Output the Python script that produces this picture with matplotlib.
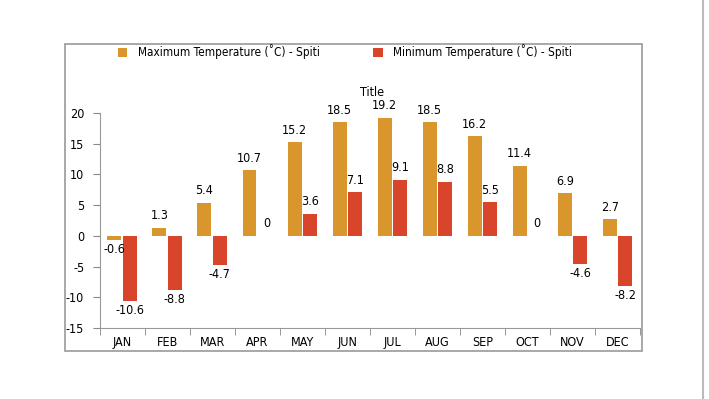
import matplotlib.pyplot as plt
import numpy as np
from matplotlib.patches import Rectangle

months = ["JAN", "FEB", "MAR", "APR", "MAY", "JUN", "JUL", "AUG", "SEP", "OCT", "NOV", "DEC"]
max_temp = [-0.6, 1.3, 5.4, 10.7, 15.2, 18.5, 19.2, 18.5, 16.2, 11.4, 6.9, 2.7]
min_temp = [-10.6, -8.8, -4.7, 0, 3.6, 7.1, 9.1, 8.8, 5.5, 0, -4.6, -8.2]
yticks = [-15, -10, -5, 0, 5, 10, 15, 20]

c_max = "#D8962C"
c_min = "#D9452A"
plt.rcParams['font.family'] = ['DejaVu Sans']
plt.rcParams['font.stretch'] = 'condensed'
fs = 8.5

fig = plt.figure(figsize=(7.09, 3.99), dpi=100)
# outer frame
fig.patches.append(Rectangle((65 / 709, 1 - 351 / 399), (642 - 65) / 709, (351 - 44) / 399,
                             transform=fig.transFigure, fill=False, edgecolor="#999999", lw=1.2))
fig.add_artist(plt.Line2D([703 / 709, 703 / 709], [0, 1], color="#bbbbbb", lw=1.5))

ax = fig.add_axes([99.5 / 709, 1 - 328 / 399, (640 - 99.5) / 709, (328 - 113) / 399])
x = np.arange(len(months))
w = 0.31
b1 = ax.bar(x - 0.17, max_temp, w, color=c_max, label="Maximum Temperature (˚C) - Spiti")
b2 = ax.bar(x + 0.17, min_temp, w, color=c_min, label="Minimum Temperature (˚C) - Spiti")

for bars, vals in [(b1, max_temp), (b2, min_temp)]:
    for r, v in zip(bars, vals):
        cx = r.get_x() + r.get_width() / 2
        if v > 0:
            ax.text(cx, v + 0.9, f"{v:g}", ha="center", va="bottom", fontsize=fs + 0.5)
        elif v < 0:
            ax.text(cx, v - 0.5, f"{v:g}", ha="center", va="top", fontsize=fs + 0.5)
        else:
            ax.text(cx + 0.05, 1.0, "0", ha="center", va="bottom", fontsize=fs + 0.5)

ax.set_xlim(-0.5, 11.5)
ax.set_ylim(-15, 20)
ax.set_yticks(yticks)
ax.set_yticklabels([str(t) for t in yticks], fontsize=fs + 0.5)
ax.set_xticks(x)
ax.set_xticklabels(months, fontsize=fs + 0.5)
ax.set_xticks(np.arange(-0.5, 12, 1), minor=True)
ax.tick_params(axis="x", which="major", length=0, pad=6)
ax.tick_params(axis="x", which="minor", length=5, color="#888888")
ax.tick_params(axis="y", length=5, color="#888888", pad=6)
for s in ["top", "right"]:
    ax.spines[s].set_visible(False)
for s in ["left", "bottom"]:
    ax.spines[s].set_color("#999999")

fig.text(372 / 709, 1 - 92 / 399, "Title", ha="center", va="center", fontsize=fs + 0.5)
fig.legend(loc="center", bbox_to_anchor=(345 / 709, 1 - 52 / 399), ncol=2, frameon=False,
           fontsize=fs, handlelength=0.8, handleheight=0.8, columnspacing=4.5, handletextpad=0.9)

fig.savefig("out.png", dpi=100)
